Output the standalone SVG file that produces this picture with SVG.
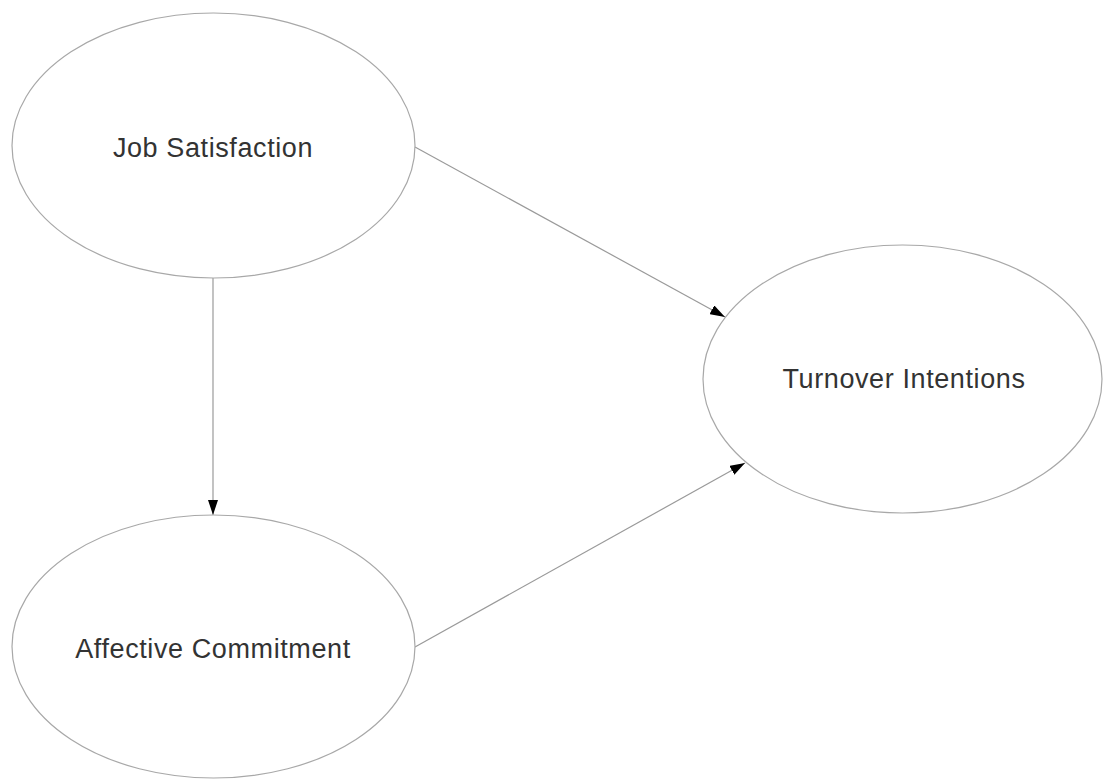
<svg xmlns="http://www.w3.org/2000/svg" width="1104" height="780" viewBox="0 0 1104 780">
  <style>
    .node ellipse { fill: #ffffff; stroke: #a8a8a8; stroke-width: 1.2; }
    .node text { font-family: "Liberation Sans", Arial, sans-serif; font-size: 27px; fill: #333333; text-anchor: middle; letter-spacing: 0.6px; }
    .edge { stroke: #9a9a9a; stroke-width: 1.2; fill: none; marker-end: url(#arrow); }
  </style>
  <defs>
    <marker id="arrow" markerUnits="userSpaceOnUse" markerWidth="15" markerHeight="10" refX="15" refY="5" orient="auto">
      <path d="M0,0 L15,5 L0,10 z" fill="#000000"/>
    </marker>
  </defs>
  <rect width="1104" height="780" fill="#ffffff"/>
  <g id="connectors">
    <line class="edge" x1="415" y1="147" x2="725" y2="317"/>
    <line class="edge" x1="213" y1="278" x2="213" y2="515"/>
    <line class="edge" x1="415" y1="647" x2="745" y2="463"/>
  </g>
  <g id="job-satisfaction" class="node">
    <ellipse cx="213.5" cy="145.5" rx="201.5" ry="132.5"/>
    <text x="213" y="157">Job Satisfaction</text>
  </g>
  <g id="affective-commitment" class="node">
    <ellipse cx="213.5" cy="646.5" rx="201.5" ry="131.5"/>
    <text x="213" y="658">Affective Commitment</text>
  </g>
  <g id="turnover-intentions" class="node">
    <ellipse cx="902.5" cy="379" rx="199.5" ry="134"/>
    <text x="904" y="388">Turnover Intentions</text>
  </g>
</svg>
